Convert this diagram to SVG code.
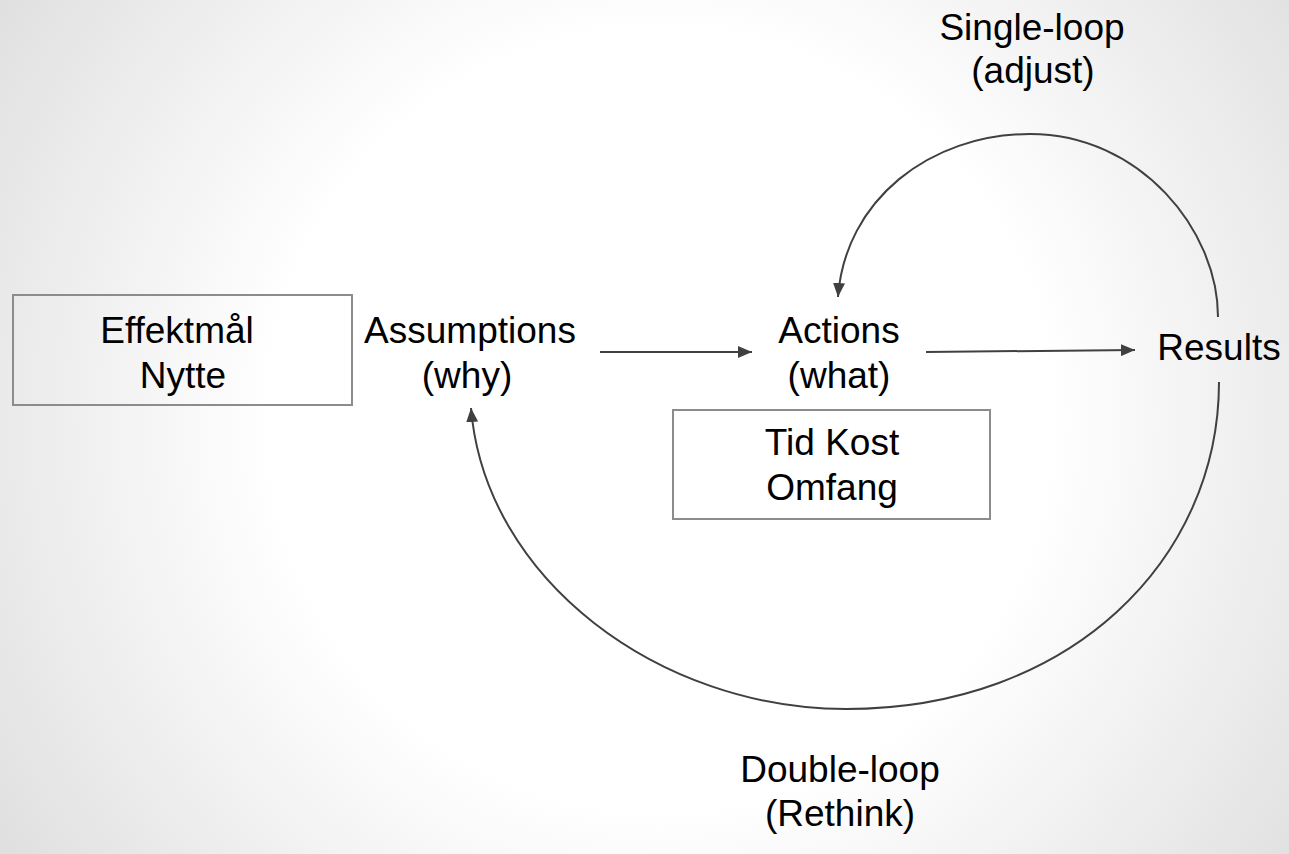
<svg xmlns="http://www.w3.org/2000/svg" width="1289" height="854" viewBox="0 0 1289 854">
<defs>
<radialGradient id="bg" gradientUnits="userSpaceOnUse" cx="660" cy="420" r="780">
<stop offset="0" stop-color="#ffffff"/>
<stop offset="0.5" stop-color="#ffffff"/>
<stop offset="1" stop-color="#e0e0e0"/>
</radialGradient>
<marker id="ah" viewBox="0 0 14 12" refX="14" refY="6" markerWidth="14" markerHeight="12" markerUnits="userSpaceOnUse" orient="auto">
<path d="M0,0 L14,6 L0,12 z" fill="#404040"/>
</marker>
<style>
.t{font-family:"Liberation Sans",Arial,sans-serif;font-size:37px;fill:#000;text-anchor:middle}
.box{fill:none;stroke:#8c8c8c;stroke-width:2}
.c{fill:none;stroke:#404040;stroke-width:2;marker-end:url(#ah)}
</style>
</defs>
<rect width="1289" height="854" fill="url(#bg)"/>
<g id="effektmaal">
<rect class="box" x="13" y="295" width="339" height="110"/>
<text class="t" x="177" y="343">Effektmål</text>
<text class="t" x="183" y="388">Nytte</text>
</g>
<g id="assumptions">
<text class="t" x="470" y="343">Assumptions</text>
<text class="t" x="467" y="388">(why)</text>
</g>
<g id="actions">
<text class="t" x="839" y="343">Actions</text>
<text class="t" x="839" y="388">(what)</text>
</g>
<g id="results">
<text class="t" x="1219" y="360">Results</text>
</g>
<g id="tidkost">
<rect class="box" x="673" y="410" width="317" height="109"/>
<text class="t" x="832" y="455">Tid Kost</text>
<text class="t" x="832" y="500">Omfang</text>
</g>
<g id="singleloop">
<text class="t" x="1032" y="40">Single-loop</text>
<text class="t" x="1033" y="83">(adjust)</text>
</g>
<g id="doubleloop">
<text class="t" x="840" y="782">Double-loop</text>
<text class="t" x="840" y="826">(Rethink)</text>
</g>
<g id="connectors">
<path class="c" d="M600,352 L752,352"/>
<path class="c" d="M926,352 L1135,350"/>
<path class="c" d="M1218,317 C1218,230 1140,134 1030,134 C930,134 845,200 838,297"/>
<path class="c" d="M1219,382 C1219,560 1070,709 846,709 C660,709 485,580 471,408"/>
</g>
</svg>
